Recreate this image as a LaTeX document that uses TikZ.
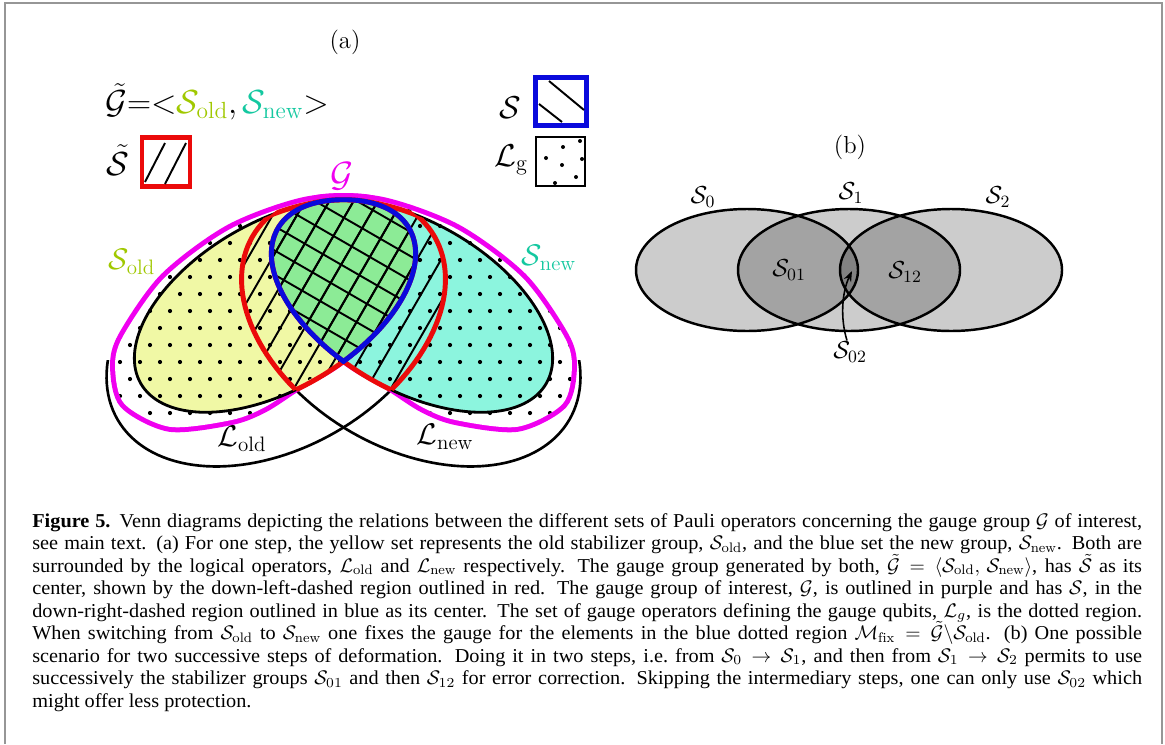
\RequirePackage{fix-cm}
\documentclass[tikz,border=0pt]{standalone}
\usepackage{fontspec}
\newfontfamily\capfont[FakeStretch=1.03]{Liberation Serif}
\usetikzlibrary{arrows.meta}
\definecolor{yel}{RGB}{240,248,165}
\definecolor{cya}{RGB}{140,245,222}
\definecolor{grn}{RGB}{140,235,150}
\definecolor{magc}{RGB}{240,0,240}
\definecolor{redc}{RGB}{235,10,10}
\definecolor{bluc}{RGB}{10,10,220}
\definecolor{soldc}{RGB}{160,200,0}
\definecolor{snewc}{RGB}{20,200,160}
\definecolor{framec}{RGB}{150,150,150}
% S_old (A), S_new (B), L_old (C), L_new (D), teardrop (T), G outlines (Mold, Mnew)
\def\Apath{plot[variable=\t,domain=0:360,samples=145] ({275+134.23*cos(\t)-42*sin(\t)},{306-77.5*cos(\t)-72.74*sin(\t)}) -- cycle}
\def\Bpath{plot[variable=\t,domain=0:360,samples=145] ({412+134.23*cos(\t)+42*sin(\t)},{306+77.5*cos(\t)-72.74*sin(\t)}) -- cycle}
\def\Cpath{plot[variable=\t,domain=0:360,samples=145] ({276+158.48*cos(\t)-60*sin(\t)},{328-91.5*cos(\t)-103.92*sin(\t)}) -- cycle}
\def\Dpath{plot[variable=\t,domain=0:360,samples=145] ({411+158.48*cos(\t)+60*sin(\t)},{328+91.5*cos(\t)-103.92*sin(\t)}) -- cycle}
\def\Tpath{plot[variable=\t,domain=43.5:-78.2,samples=50] ({275+134.23*cos(\t)-42*sin(\t)},{306-77.5*cos(\t)-72.74*sin(\t)}) -- plot[variable=\t,domain=258.2:136.5,samples=50] ({412+134.23*cos(\t)+42*sin(\t)},{306+77.5*cos(\t)-72.74*sin(\t)}) -- cycle}
\def\Mold{plot[smooth cycle] coordinates{(411.8,227) (371.5,200.3) (305.7,201.7) (230.5,228.9) (164.6,277.7) (122.8,336.7) (115.1,367.2) (124.4,403.8) (169.8,426.8) (231.5,420) (264.3,407.4) (296.9,386.5) (342.4,359.1) (401.5,303.2) (419.4,257.4)}}
\def\Mnew{plot[smooth cycle] coordinates{(275.2,227) (315.5,200.3) (381.3,201.7) (456.5,228.9) (522.4,277.7) (564.2,336.7) (571.9,367.2) (562.6,403.8) (517.2,426.8) (455.5,420) (422.7,407.4) (390.1,386.5) (344.6,359.1) (285.5,303.2) (267.6,257.4)}}
\begin{document}
\begin{tikzpicture}[x=0.02cm,y=-0.02cm,
  lbl/.style={inner sep=0.5pt},
  capline/.style={anchor=base west,inner sep=0pt,font=\capfont\fontsize{11.2}{13}\selectfont},
  hatch/.style={line width=1.1pt,black},
  lline/.style={line width=1.5pt,black},
  sline/.style={line width=1.6pt,black},
  redl/.style={line width=2.8pt,redc},
  bluel/.style={line width=2.8pt,bluc,line join=miter},
  dotc/.style={black},
  vennb/.style={fill=black,fill opacity=0.2},
  vennl/.style={line width=1.4pt,black}]
\useasboundingbox (0,0) rectangle (1165,744);
% frame
\draw[framec,line width=1.2pt] (5,744) -- (5,3) -- (1162,3) -- (1162,744);

% ===== panel (a) =====
\node[lbl,font=\fontsize{14}{16}\selectfont] (la) at (345,42) {(a)};
\node[lbl,anchor=west,font=\fontsize{19}{21}\selectfont] (gt) at (104,102)
  {$\tilde{\mathcal{G}}{=}{<}{\color{soldc}\mathcal{S}_{\mathrm{old}}}{,}\,{\color{snewc}\mathcal{S}_{\mathrm{new}}}{>}$};
\node[lbl,font=\fontsize{19}{21}\selectfont] (stl) at (118,160) {$\tilde{\mathcal{S}}$};
\node[draw=redc,line width=2.3pt,minimum width=0.96cm,minimum height=0.98cm,inner sep=0pt] (rbox) at (166,162) {};
\draw[hatch] (145,182) -- (165,143);
\draw[hatch] (165,184) -- (186,143);
\node[lbl,font=\fontsize{18}{20}\selectfont] (sl) at (510,108) {$\mathcal{S}$};
\node[draw=bluc,line width=2.8pt,minimum width=1.02cm,minimum height=0.96cm,inner sep=0pt] (bbox) at (561,101.5) {};
\draw[hatch] (549,81) -- (584,110);
\draw[hatch] (539,104) -- (562,122);
\node[lbl,font=\fontsize{18}{20}\selectfont] (lgl) at (511,160) {$\mathcal{L}_{\mathrm{g}}$};
\node[draw=black,line width=0.9pt,minimum width=0.98cm,minimum height=0.98cm,inner sep=0pt] (gbox) at (560.5,161.5) {};
\foreach \p in {(580,141),(563,147),(546,158),(562,165),(582,159),(576,177),(555,183)}{\fill \p circle (2);}

% L outlines (lower visible parts)
\begin{scope}
\clip (0,360) rectangle (1165,744);
\draw[lline] \Cpath;
\draw[lline] \Dpath;
\end{scope}
% G (magenta union outline)
\draw[magc,line width=5.7pt] \Mold;
\draw[magc,line width=5.7pt] \Mnew;
\fill[white] \Mold;
\fill[white] \Mnew;
% fills
\fill[yel] \Apath;
\fill[cya] \Bpath;
% dots
\begin{scope}
\clip \Mold;
\foreach \j in {0,...,14}{\foreach \i in {0,...,24}{\fill[dotc] ({100+20*\i+10*mod(\j,2)},{192+17*\j}) circle (2.1);}}
\end{scope}
\begin{scope}
\clip \Mnew;
\foreach \j in {0,...,14}{\foreach \i in {0,...,24}{\fill[dotc] ({100+20*\i+10*mod(\j,2)},{192+17*\j}) circle (2.1);}}
\end{scope}
\fill[grn] \Tpath;
% hatch "/" in S-tilde
\begin{scope}
\clip \Cpath; \clip \Dpath;
\begin{scope}
\clip \Apath;
\foreach \k in {-11,...,11}{\draw[hatch] ({345+18.2*\k-125},{300+10.5*\k+216.5}) -- ({345+18.2*\k+125},{300+10.5*\k-216.5});}
\end{scope}
\begin{scope}
\clip \Bpath;
\foreach \k in {-11,...,11}{\draw[hatch] ({345+18.2*\k-125},{300+10.5*\k+216.5}) -- ({345+18.2*\k+125},{300+10.5*\k-216.5});}
\end{scope}
\end{scope}
% hatch "\" in S
\begin{scope}
\clip \Tpath;
\foreach \k in {-11,...,11}{\draw[hatch] ({343-10.5*\k-216.5},{290+18.2*\k-125}) -- ({343-10.5*\k+216.5},{290+18.2*\k+125});}
\end{scope}
% black outlines of S_old, S_new
\draw[sline] \Apath;
\draw[sline] \Bpath;
% red outline of S-tilde
\begin{scope}\clip \Cpath; \clip \Dpath; \draw[redl] \Apath; \draw[redl] \Bpath; \end{scope}
\begin{scope}\clip \Dpath; \clip \Apath; \draw[redl] \Cpath; \end{scope}
\begin{scope}\clip \Dpath; \clip \Bpath; \draw[redl] \Cpath; \end{scope}
\begin{scope}\clip \Cpath; \clip \Apath; \draw[redl] \Dpath; \end{scope}
\begin{scope}\clip \Cpath; \clip \Bpath; \draw[redl] \Dpath; \end{scope}
% blue outline of S
\draw[bluel] \Tpath;
% labels
\node[lbl,font=\fontsize{20}{22}\selectfont,text=magc] (gl) at (342,176) {$\mathcal{G}$};
\node[lbl,font=\fontsize{17}{19}\selectfont,text=soldc] (sol) at (132,262) {$\mathcal{S}_{\mathrm{old}}$};
\node[lbl,font=\fontsize{17}{19}\selectfont,text=snewc] (snl) at (549,258) {$\mathcal{S}_{\mathrm{new}}$};
\node[lbl,font=\fontsize{17}{19}\selectfont] (lol) at (242,439) {$\mathcal{L}_{\mathrm{old}}$};
\node[lbl,font=\fontsize{17}{19}\selectfont] (lnl) at (445,437) {$\mathcal{L}_{\mathrm{new}}$};

% ===== panel (b) =====
\node[lbl,font=\fontsize{14}{16}\selectfont] (lb) at (850,147) {(b)};
\fill[vennb] (747,270) ellipse (111 and 61);
\fill[vennb] (849,270) ellipse (111 and 61);
\fill[vennb] (951,270) ellipse (111 and 61);
\draw[vennl] (747,270) ellipse (111 and 61);
\draw[vennl] (849,270) ellipse (111 and 61);
\draw[vennl] (951,270) ellipse (111 and 61);
\node[lbl,font=\fontsize{14}{16}\selectfont] (s0) at (703,197) {$\mathcal{S}_0$};
\node[lbl,font=\fontsize{14}{16}\selectfont] (s1) at (851,193) {$\mathcal{S}_1$};
\node[lbl,font=\fontsize{14}{16}\selectfont] (s2) at (998,197) {$\mathcal{S}_2$};
\node[lbl,font=\fontsize{14}{16}\selectfont] (s01) at (789,270) {$\mathcal{S}_{01}$};
\node[lbl,font=\fontsize{14}{16}\selectfont] (s12) at (905,272) {$\mathcal{S}_{12}$};
\node[lbl,font=\fontsize{14}{16}\selectfont] (s02) at (850,352) {$\mathcal{S}_{02}$};
\coordinate (tip02) at (852,271);
\draw[line width=0.9pt,-{Stealth[length=6pt,width=4.5pt]}] (s02.north) ++(-3,0) .. controls (840,318) and (842,292) .. (tip02);

% ===== caption =====
\node[capline] (c1) at (32,527) {\makebox[22.2cm][s]{\textbf{Figure 5.} Venn diagrams depicting the relations between the different sets of Pauli operators concerning the gauge group $\mathcal{G}$ of interest,}};
\node[capline] (c2) at (32,549.5) {\makebox[22.2cm][s]{see main text. (a) For one step, the yellow set represents the old stabilizer group, $\mathcal{S}_{\mathrm{old}}$, and the blue set the new group, $\mathcal{S}_{\mathrm{new}}$. Both are}};
\node[capline] (c3) at (32,572) {\makebox[22.2cm][s]{surrounded by the logical operators, $\mathcal{L}_{\mathrm{old}}$ and $\mathcal{L}_{\mathrm{new}}$ respectively. The gauge group generated by both, $\tilde{\mathcal{G}}=\langle\mathcal{S}_{\mathrm{old}},\,\mathcal{S}_{\mathrm{new}}\rangle$, has $\tilde{\mathcal{S}}$ as its}};
\node[capline] (c4) at (32,594.5) {\makebox[22.2cm][s]{center, shown by the down-left-dashed region outlined in red. The gauge group of interest, $\mathcal{G}$, is outlined in purple and has $\mathcal{S}$, in the}};
\node[capline] (c5) at (32,617) {\makebox[22.2cm][s]{down-right-dashed region outlined in blue as its center. The set of gauge operators defining the gauge qubits, $\mathcal{L}_g$, is the dotted region.}};
\node[capline] (c6) at (32,639.5) {\makebox[22.2cm][s]{When switching from $\mathcal{S}_{\mathrm{old}}$ to $\mathcal{S}_{\mathrm{new}}$ one fixes the gauge for the elements in the blue dotted region $\mathcal{M}_{\mathrm{fix}}=\tilde{\mathcal{G}}\backslash\mathcal{S}_{\mathrm{old}}$. (b) One possible}};
\node[capline] (c7) at (32,662) {\makebox[22.2cm][s]{scenario for two successive steps of deformation. Doing it in two steps, i.e.\ from $\mathcal{S}_0\rightarrow\mathcal{S}_1$, and then from $\mathcal{S}_1\rightarrow\mathcal{S}_2$ permits to use}};
\node[capline] (c8) at (32,684.5) {\makebox[22.2cm][s]{successively the stabilizer groups $\mathcal{S}_{01}$ and then $\mathcal{S}_{12}$ for error correction. Skipping the intermediary steps, one can only use $\mathcal{S}_{02}$ which}};
\node[capline] (c9) at (32,707) {might offer less protection.};
\end{tikzpicture}
\end{document}
